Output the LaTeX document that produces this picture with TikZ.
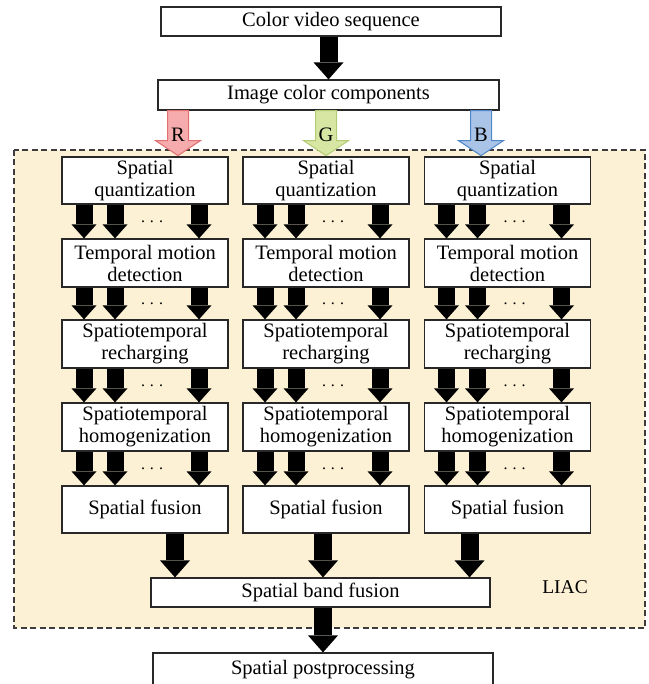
\documentclass[tikz,border=0pt]{standalone}
\usepackage{fontspec}
\setmainfont{Liberation Serif}
\usetikzlibrary{arrows.meta,calc}
\definecolor{liacbg}{RGB}{252,241,212}
\definecolor{liacline}{RGB}{60,60,60}
\definecolor{boxline}{RGB}{40,40,40}
\definecolor{rfill}{RGB}{246,172,172}
\definecolor{rline}{RGB}{226,112,112}
\definecolor{gfill}{RGB}{215,230,162}
\definecolor{gline}{RGB}{178,204,118}
\definecolor{bfill}{RGB}{170,196,232}
\definecolor{bline}{RGB}{78,134,200}

\tikzset{
  blk/.style={draw=boxline, line width=1.2pt, fill=white, align=center, inner sep=0pt,
    font=\fontsize{20.5}{22}\selectfont},
  fat/.style={line width=17pt, -{Triangle[width=25pt,length=14pt,line width=0pt]}},
  bigfat/.style={line width=18pt, -{Triangle[width=30pt,length=17pt,line width=0pt]}},
}

% coloured component arrow: start coordinate, fill, outline, label
\newcommand{\rgbarrow}[4]{%
  \draw[draw=#3, fill=#2, line width=1pt] (#1) ++(-10.5,0) -- ++(21,0) -- ++(0,30)
    -- ++(12,0) -- ++(-22.5,15) -- ++(-22.5,-15) -- ++(12,0) -- cycle;
  \node[font=\fontsize{20.5}{22}\selectfont] (#1lbl) at ($(#1)+(0,24)$) {#4};}

\begin{document}
\begin{tikzpicture}[x=1pt,y=-1pt]
\clip (0,0) rectangle (648,684);

% === LIAC region ===
\draw[fill=liacbg, draw=liacline, line width=1.2pt, dash pattern=on 6pt off 3.5pt] (14,150) rectangle (645,628);
\node[font=\fontsize{19.5}{22}\selectfont] (liac) at (565,587) {LIAC};

% === Input ===
\node[blk, minimum width=340pt, minimum height=29pt] (video) at (331,21.5) {Color video sequence};
\node[blk, minimum width=341pt, minimum height=30pt] (comp) at (328.5,95) {Image color components};
\draw[bigfat] (video.south -| comp.north) -- (comp.north);

% R, G, B components
\coordinate (rin) at ([xshift=-150.5pt]comp.south);
\coordinate (gin) at ([xshift=-2.5pt]comp.south);
\coordinate (bin) at ([xshift=152.5pt]comp.south);
\rgbarrow{rin}{rfill}{rline}{R}
\rgbarrow{gin}{gfill}{gline}{G}
\rgbarrow{bin}{bfill}{bline}{B}

% === Three colour channels ===
\foreach \c/\x in {1/145, 2/326, 3/507.5} {
  \node[blk, minimum width=166pt, minimum height=47pt] (q\c) at (\x,180.5) {Spatial\\quantization};
  \node[blk, minimum width=166pt, minimum height=48pt] (t\c) at (\x,263) {Temporal motion\\detection};
  \node[blk, minimum width=166pt, minimum height=48pt] (s\c) at (\x,344) {Spatiotemporal\\recharging};
  \node[blk, minimum width=166pt, minimum height=48pt] (h\c) at (\x,427) {Spatiotemporal\\homogenization};
  \node[blk, minimum width=166pt, minimum height=47pt] (f\c) at (\x,509.5) {Spatial fusion};
  \foreach \a/\b in {q/t, t/s, s/h, h/f} {
    \foreach \dx in {-61,-30,54}
      \draw[fat] ([xshift=\dx pt]\a\c.south) -- ([xshift=\dx pt]\b\c.north);
    \path ([xshift=7pt]\a\c.south) -- node[font=\fontsize{16}{16}\selectfont, name=d\a\c] {.\hspace{5pt}.\hspace{5pt}.} ([xshift=7pt]\b\c.north);
  }
}

% === Fusion of the bands ===
\node[blk, minimum width=339pt, minimum height=29pt] (band) at (320.5,592.5) {Spatial band fusion};
\draw[bigfat] ([xshift=30pt]f1.south) -- ([xshift=30pt]f1.south |- band.north);
\draw[bigfat] ([xshift=-3pt]f2.south) -- ([xshift=-3pt]f2.south |- band.north);
\draw[bigfat] ([xshift=-38pt]f3.south) -- ([xshift=-38pt]f3.south |- band.north);

\node[blk, minimum width=340pt, minimum height=34pt] (post) at (323,670) {Spatial postprocessing};
\draw[bigfat] (post.north |- band.south) -- (post.north);

\end{tikzpicture}
\end{document}
